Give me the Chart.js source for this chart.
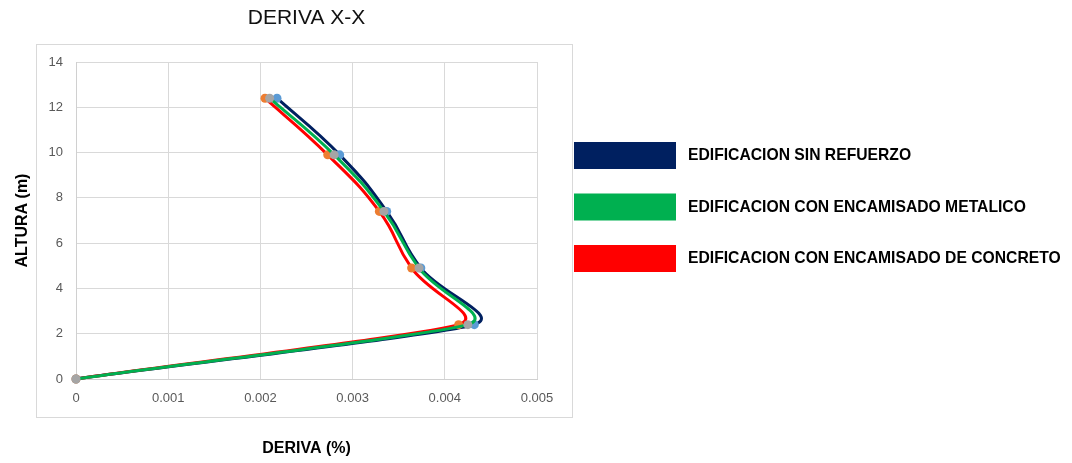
<!DOCTYPE html>
<html>
<head>
<meta charset="utf-8">
<script src="https://cdn.jsdelivr.net/npm/chart.js@4.4.1/dist/chart.umd.min.js"></script>
<style>
  html, body { margin: 0; padding: 0; background: #ffffff; }
  #wrap { width: 1072px; height: 463px; }
</style>
</head>
<body>
<div id="wrap"><canvas id="c" width="1072" height="463"></canvas></div>
<script>
// Storey heights (m) and inter-storey drift for each building variant
const alturas = [0, 2.4, 4.9, 7.4, 9.9, 12.4];
const derivaSinRefuerzo = [0, 0.00432, 0.00374, 0.00337, 0.00286, 0.00218];
const derivaMetalico    = [0, 0.00425, 0.00372, 0.00334, 0.00280, 0.00210];
const derivaConcreto    = [0, 0.00415, 0.00364, 0.00329, 0.00273, 0.00205];

const etiquetaSinRefuerzo = 'EDIFICACION SIN REFUERZO';
const etiquetaMetalico    = 'EDIFICACION CON ENCAMISADO METALICO';
const etiquetaConcreto    = 'EDIFICACION CON ENCAMISADO DE CONCRETO';

const xTickLabels = ['0', '0.001', '0.002', '0.003', '0.004', '0.005'];
const yTickLabels = ['0', '2', '4', '6', '8', '10', '12', '14'];

function puntos(xs) {
  return xs.map((x, i) => ({ x: x, y: alturas[i] }));
}

function serie(label, xs, lineColor, markerColor) {
  return {
    label: label,
    data: puntos(xs),
    showLine: true,
    clip: false,
    borderColor: lineColor,
    backgroundColor: lineColor,
    borderWidth: 3,
    tension: 0.5,
    pointRadius: 4.5,
    pointBackgroundColor: markerColor,
    pointBorderColor: markerColor,
    pointBorderWidth: 0,
    pointHoverRadius: 4.5
  };
}

// first dataset is painted last (on top)
const datasets = [
  serie(etiquetaMetalico, derivaMetalico, '#00B050', '#A5A5A5'),
  serie(etiquetaConcreto, derivaConcreto, '#FF0000', '#ED7D31'),
  serie(etiquetaSinRefuerzo, derivaSinRefuerzo, '#002060', '#5B9BD5')
];
const legendOrder = [2, 0, 1];

// Smoothed curve whose handles are limited by the shorter neighbouring
// segment, so a long straight run is not bent by a short one next to it.
const suavizado = {
  id: 'suavizado',
  beforeDatasetDraw(chart, args) {
    const meta = args.meta;
    const pts = meta.data;
    const t = 0.5;
    const n = pts.length;
    for (let i = 0; i < n; i++) {
      const cur = pts[i];
      if (i === 0 || i === n - 1) {
        const nb = i === 0 ? pts[1] : pts[n - 2];
        const cx = cur.x + (nb.x - cur.x) / 3;
        const cy = cur.y + (nb.y - cur.y) / 3;
        cur.cp1x = cur.cp2x = cx;
        cur.cp1y = cur.cp2y = cy;
        continue;
      }
      const prev = pts[i - 1], next = pts[i + 1];
      const d01 = Math.hypot(cur.x - prev.x, cur.y - prev.y);
      const d12 = Math.hypot(next.x - cur.x, next.y - cur.y);
      const s = Math.min(d01, d12) / ((d01 + d12) || 1);
      const vx = next.x - prev.x, vy = next.y - prev.y;
      cur.cp1x = cur.x - t * s * vx;
      cur.cp1y = cur.y - t * s * vy;
      cur.cp2x = cur.x + t * s * vx;
      cur.cp2y = cur.y + t * s * vy;
    }
    meta.dataset._pointsUpdated = true;
  }
};

// thin frame around the plot region
const frame = {
  id: 'frame',
  beforeDraw(chart) {
    const ctx = chart.ctx;
    ctx.save();
    ctx.strokeStyle = '#d9d9d9';
    ctx.lineWidth = 1;
    ctx.strokeRect(36.5, 44.5, 536, 373);
    ctx.restore();
  }
};

// block-style legend beside the frame
const bloqueLeyenda = {
  id: 'bloqueLeyenda',
  afterDraw(chart) {
    const ctx = chart.ctx;
    ctx.save();
    legendOrder.forEach((di, i) => {
      const ds = chart.data.datasets[di];
      const y0 = 142 + i * 51.5;
      ctx.fillStyle = ds.borderColor;
      ctx.fillRect(574, y0, 102, 27);
      ctx.fillStyle = '#000000';
      ctx.font = 'bold 15.7px "Liberation Sans", Arial, sans-serif';
      ctx.textBaseline = 'middle';
      ctx.textAlign = 'left';
      ctx.fillText(ds.label, 688, y0 + 14);
    });
    ctx.restore();
  }
};

new Chart(document.getElementById('c'), {
  type: 'scatter',
  data: { datasets: datasets },
  plugins: [suavizado, frame, bloqueLeyenda],
  options: {
    responsive: false,
    animation: false,
    layout: { padding: { left: 0, right: 535, top: 0, bottom: 0 } },
    plugins: {
      legend: { display: false },
      tooltip: { enabled: false },
      title: {
        display: true,
        text: 'DERIVA X-X',
        fullSize: false,
        color: '#111111',
        font: { family: '"Liberation Sans", Arial, sans-serif', size: 21, weight: 'normal' },
        padding: { top: 6, bottom: 30.8 }
      }
    },
    scales: {
      x: {
        type: 'linear',
        min: 0,
        max: 0.005,
        afterFit(scale) { scale.height = 84; },
        ticks: {
          stepSize: 0.001,
          padding: 12,
          color: '#595959',
          font: { family: '"Liberation Sans", Arial, sans-serif', size: 13 },
          maxRotation: 0,
          callback: (v, i) => xTickLabels[i]
        },
        grid: { color: '#d9d9d9', drawTicks: false, lineWidth: 1 },
        border: { color: '#d0d0d0' },
        title: {
          display: true,
          text: 'DERIVA (%)',
          color: '#000000',
          font: { family: '"Liberation Sans", Arial, sans-serif', size: 16, weight: 'bold' },
          padding: { top: 0, bottom: 4.4 }
        }
      },
      y: {
        type: 'linear',
        min: 0,
        max: 14,
        afterFit(scale) { scale.width = 76; },
        ticks: {
          stepSize: 2,
          padding: 13,
          color: '#595959',
          font: { family: '"Liberation Sans", Arial, sans-serif', size: 13 },
          callback: (v, i) => yTickLabels[i]
        },
        grid: { color: '#d9d9d9', drawTicks: false, lineWidth: 1 },
        border: { color: '#d0d0d0' },
        title: {
          display: true,
          text: 'ALTURA (m)',
          color: '#000000',
          font: { family: '"Liberation Sans", Arial, sans-serif', size: 16, weight: 'bold' },
          padding: { top: 13, bottom: 0 }
        }
      }
    }
  }
});
</script>
</body>
</html>
